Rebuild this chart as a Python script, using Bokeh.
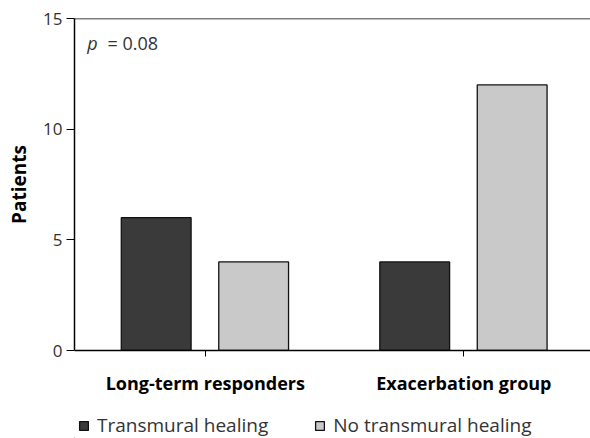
from bokeh.plotting import figure
from bokeh.models import ColumnDataSource, FixedTicker, Span, Legend, LegendItem, Label
from bokeh.layouts import column
from bokeh.transform import dodge
from bokeh.embed import file_html
from bokeh.resources import INLINE

categories = ["Long-term responders", "Exacerbation group"]
cat_pos = [0, 1]
transmural = [6, 4]
no_transmural = [4, 12]
y_ticks = [0, 5, 10, 15]
series_names = ["Transmural healing", "No transmural healing"]

src = ColumnDataSource(dict(x=cat_pos, a=transmural, b=no_transmural))

FONT = "Open Sans"
DARK, LIGHT, EDGE = "#3a3a3a", "#c9c9c9", "#111111"

p = figure(width=590, height=412, output_backend="svg", toolbar_location=None,
           x_range=(-0.506, 1.49), y_range=(0, 15),
           min_border_left=74, min_border_top=18, min_border_bottom=62, min_border_right=0)
p.outline_line_color = None
p.grid.grid_line_color = None

p.vbar(x=dodge("x", -0.19, range=p.x_range), top="a", width=0.27, source=src,
       fill_color=DARK, line_color=EDGE, line_width=1.3)
p.vbar(x=dodge("x", 0.187, range=p.x_range), top="b", width=0.27, source=src,
       fill_color=LIGHT, line_color=EDGE, line_width=1.3)

p.add_layout(Span(location=15, dimension="width", line_color="black", line_width=1.5))

# y axis
p.yaxis.ticker = FixedTicker(ticks=y_ticks)
p.yaxis.minor_tick_line_color = None
p.yaxis.major_tick_in = 0
p.yaxis.major_tick_out = 8
p.yaxis.axis_line_width = 1.5
p.yaxis.axis_line_color = "black"
p.yaxis.major_tick_line_color = "black"
p.yaxis.major_label_text_font = FONT
p.yaxis.major_label_text_font_size = "17px"
p.yaxis.major_label_text_color = "#333333"
p.yaxis.major_label_standoff = 4
p.yaxis.axis_label = "Patients"
p.yaxis.axis_label_text_font = FONT
p.yaxis.axis_label_text_font_size = "19px"
p.yaxis.axis_label_text_font_style = "bold"
p.yaxis.axis_label_text_color = "black"
p.yaxis.axis_label_standoff = 8

# x axis
p.xaxis.ticker = FixedTicker(ticks=cat_pos)
p.xaxis.major_label_overrides = {i: c for i, c in zip(cat_pos, categories)}
p.xaxis.minor_tick_line_color = None
p.xaxis.major_tick_in = 0
p.xaxis.major_tick_out = 6
p.xaxis.axis_line_width = 1.5
p.xaxis.axis_line_color = "black"
p.xaxis.major_label_text_font = FONT
p.xaxis.major_label_text_font_size = "18px"
p.xaxis.major_label_text_font_style = "bold"
p.xaxis.major_label_text_color = "black"
p.xaxis.major_label_standoff = 14

# p-value annotation
p.add_layout(Label(x=-0.457, y=13.9, text="p", text_font=FONT, text_font_size="18px",
                   text_font_style="italic", text_color="#333333", text_baseline="middle"))
p.add_layout(Label(x=-0.378, y=13.9, text="= 0.08", text_font=FONT, text_font_size="18px",
                   text_color="#333333", text_baseline="middle"))

# legend strip below the chart (same data; the bars fall outside this strip's view)
lg = figure(width=590, height=26, output_backend="svg", toolbar_location=None,
            x_range=(10, 11), y_range=(100, 200),
            min_border=0, x_axis_location=None, y_axis_location=None)
lg.outline_line_color = None
lg.grid.grid_line_color = None
l1 = lg.vbar(x="x", top="a", width=0.27, source=src,
             fill_color=DARK, line_color=EDGE, line_width=1.3)
l2 = lg.vbar(x="x", top="b", width=0.27, source=src,
             fill_color=LIGHT, line_color=EDGE, line_width=1.3)

legend = Legend(items=[LegendItem(label=series_names[0], renderers=[l1]),
                       LegendItem(label=series_names[1], renderers=[l2])],
                orientation="horizontal", location=(4, 0),
                label_text_font=FONT, label_text_font_size="19px", label_text_color="#333333",
                glyph_width=11, glyph_height=11, label_standoff=8, spacing=46,
                border_line_color=None, background_fill_alpha=0, padding=0, margin=0)
lg.add_layout(legend, "center")

layout = column(p, lg, spacing=0)
open("out.html", "w").write(file_html(layout, INLINE))
